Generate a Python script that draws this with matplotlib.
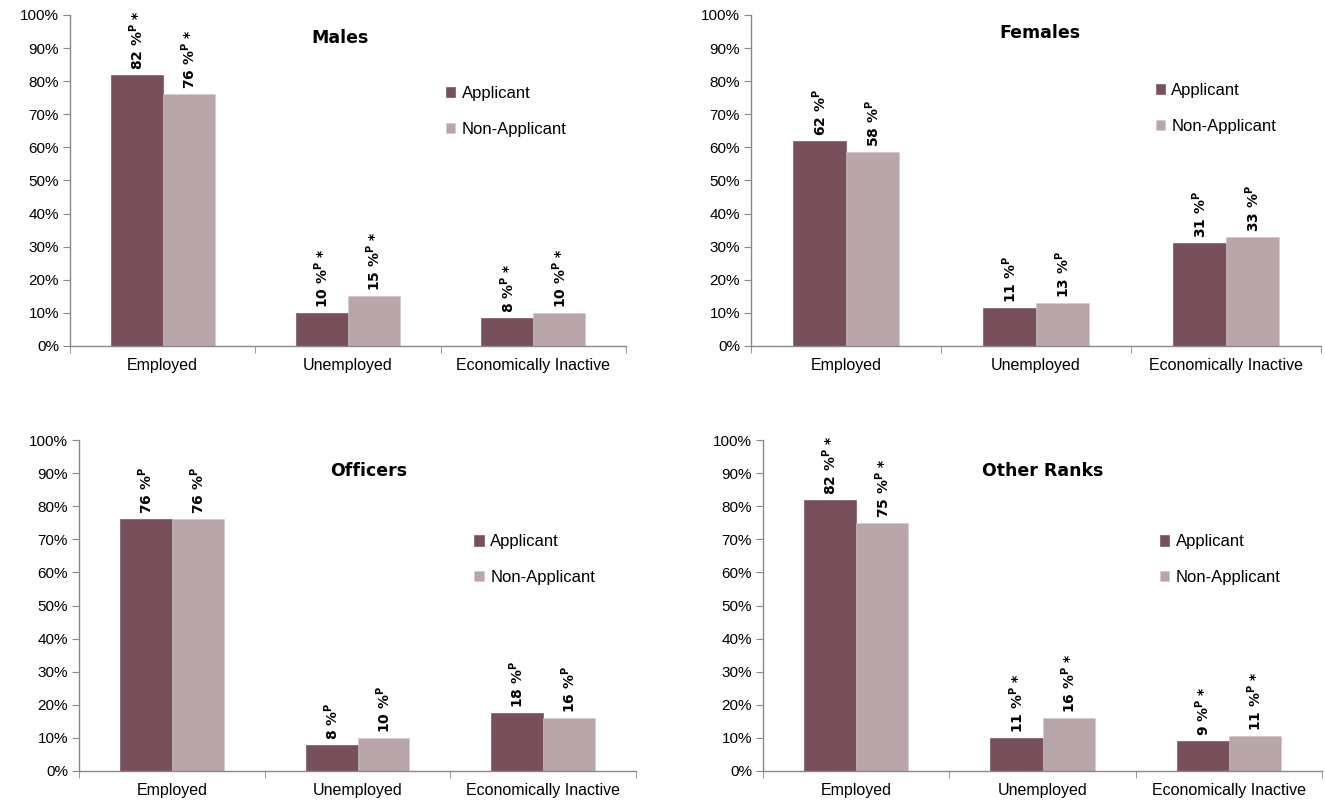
import matplotlib
matplotlib.use("Agg")
import matplotlib.pyplot as plt
import numpy as np

# ---- data ----
categories = ["Employed", "Unemployed", "Economically Inactive"]
series_names = ["Applicant", "Non-Applicant"]

panel_titles = ["Males", "Females", "Officers", "Other Ranks"]

males_app = [82, 10, 8.5]
males_non = [76, 15, 10]
females_app = [62, 11.5, 31]
females_non = [58.5, 13, 33]
officers_app = [76, 8, 17.5]
officers_non = [76, 10, 16]
other_app = [82, 10, 9]
other_non = [75, 16, 10.5]

males_app_lbl = ["82", "10", "8"]
males_non_lbl = ["76", "15", "10"]
females_app_lbl = ["62", "11", "31"]
females_non_lbl = ["58", "13", "33"]
officers_app_lbl = ["76", "8", "18"]
officers_non_lbl = ["76", "10", "16"]
other_app_lbl = ["82", "11", "9"]
other_non_lbl = ["75", "16", "11"]

significant = [True, False, False, True]

yticks = list(range(0, 101, 10))
ytick_labels = [f"{v}%" for v in yticks]

# ---- style ----
plt.rcParams['font.family'] = ['Liberation Sans', 'DejaVu Sans']
plt.rcParams['mathtext.fontset'] = 'custom'
plt.rcParams['mathtext.bf'] = 'DejaVu Sans:bold'
plt.rcParams['mathtext.rm'] = 'DejaVu Sans:bold'
plt.rcParams['mathtext.it'] = 'DejaVu Sans:bold'

c_app = "#77505C"
c_non = "#B9A6AA"
axis_col = "#888888"

W, H = 1325, 801
fig = plt.figure(figsize=(W / 100, H / 100), dpi=100)

# axes pixel boxes: (left, right, top(100%), bottom(0%))
boxes = [(70, 626, 15, 346), (751, 1321, 15, 346),
         (79, 636, 440, 771), (763, 1322, 440, 771)]
title_pos = [(0.486, 0.93), (0.507, 0.945), (0.52, 0.905), (0.50, 0.905)]
legend_pos = [(0.664, 0.805), (0.698, 0.815), (0.698, 0.735), (0.698, 0.735)]

panels = [
    (males_app, males_non, males_app_lbl, males_non_lbl),
    (females_app, females_non, females_app_lbl, females_non_lbl),
    (officers_app, officers_non, officers_app_lbl, officers_non_lbl),
    (other_app, other_non, other_app_lbl, other_non_lbl),
]

bw = 0.28
x = np.arange(len(categories))

for i, ((l, r, t, b), (app, non, al, nl)) in enumerate(zip(boxes, panels)):
    ax = fig.add_axes([l / W, 1 - b / H, (r - l) / W, (b - t) / H])
    ax.bar(x - bw / 2, app, width=bw, color=c_app, label=series_names[0],
           edgecolor="#6a4550", linewidth=0.4)
    ax.bar(x + bw / 2, non, width=bw, color=c_non, label=series_names[1],
           edgecolor="#d3c5c8", linewidth=0.4)
    ax.set_xlim(-0.5, 2.5)
    ax.set_ylim(0, 100)
    ax.set_yticks(yticks)
    ax.set_yticklabels(ytick_labels, fontsize=11)
    ax.set_xticks(x)
    ax.set_xticklabels(categories, fontsize=11.5)
    ax.set_xticks([-0.5, 0.5, 1.5, 2.5], minor=True)
    ax.tick_params(axis='x', which='major', length=0, pad=9)
    ax.tick_params(axis='x', which='minor', length=5, color=axis_col, direction='out')
    ax.tick_params(axis='y', length=5, color=axis_col, direction='out', pad=3)
    for s in ["top", "right"]:
        ax.spines[s].set_visible(False)
    for s in ["left", "bottom"]:
        ax.spines[s].set_color(axis_col)
        ax.spines[s].set_linewidth(1.0)

    star = r" $\mathbf{*}$" if significant[i] else ""
    for xs, vals, labs in [(x - bw / 2, app, al), (x + bw / 2, non, nl)]:
        for xx, v, lab in zip(xs, vals, labs):
            ax.text(xx, v + 1.5, f"{lab} %$^{{\\mathbf{{P}}}}${star}", rotation=90,
                    ha="center", va="bottom", fontsize=10, fontweight="bold",
                    family="DejaVu Sans", color="black")

    ax.text(title_pos[i][0], title_pos[i][1], panel_titles[i], transform=ax.transAxes,
            ha="center", va="center", fontsize=12.5, fontweight="bold",
            family="DejaVu Sans")
    ax.legend(loc="upper left", bbox_to_anchor=legend_pos[i], frameon=False,
              handlelength=0.55, handleheight=0.55, handletextpad=0.4,
              labelspacing=1.25, fontsize=12, borderaxespad=0)

fig.savefig("out.png", dpi=100)
